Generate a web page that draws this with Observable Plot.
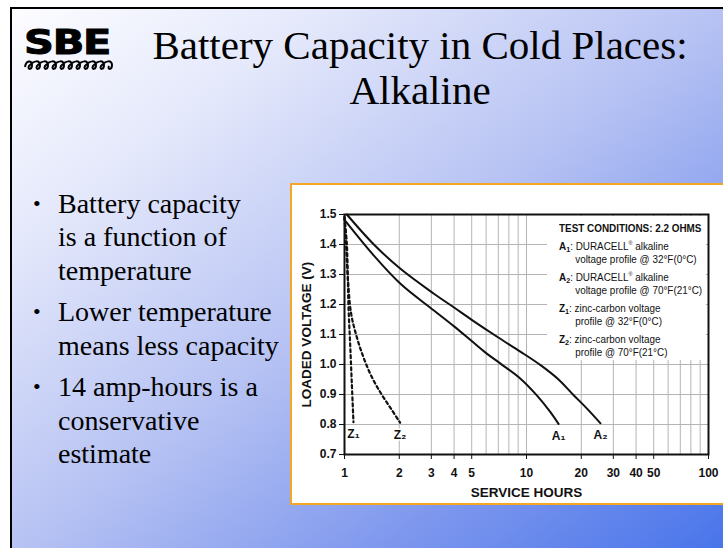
<!DOCTYPE html>
<html><head><meta charset="utf-8">
<script src="https://cdn.jsdelivr.net/npm/d3@7"></script>
<script src="https://cdn.jsdelivr.net/npm/@observablehq/plot@0.6"></script>
<style>
html,body{margin:0;padding:0;}
body{width:723px;height:548px;overflow:hidden;position:relative;background:#fff;}
#slide{position:absolute;left:10px;top:7px;width:720px;height:548px;border-left:2px solid #000;border-top:2px solid #000;box-sizing:border-box;
 background:linear-gradient(to bottom right,#fdfdff 0%,#e4e8fb 22%,#b6c2f3 50%,#7f98ee 75%,#4673ea 100%);}
#title{position:absolute;left:120px;top:23px;width:600px;text-align:center;font-family:"Liberation Serif","Times New Roman",serif;font-size:41px;line-height:45px;color:#000;}
#logo{position:absolute;left:24px;top:24px;}
#logo .sbe{font-family:"DejaVu Sans",sans-serif;font-weight:900;font-size:34px;line-height:36px;letter-spacing:-1px;transform:scaleX(1.22);transform-origin:left top;display:block;-webkit-text-stroke:1px #000;}
#logo svg{display:block;margin-top:-1px;}
#bullets{position:absolute;left:33px;top:187px;font-family:"Liberation Serif","Times New Roman",serif;font-size:28px;line-height:33.3px;color:#000;}
#bullets .item{position:relative;padding-left:25px;margin-bottom:8.5px;white-space:nowrap;}
#bullets .item:before{content:"•";position:absolute;left:0;top:0;font-size:22px;}
#panel{position:absolute;left:290px;top:183px;width:460px;height:322px;box-sizing:border-box;background:#fff;border:2px solid #f5a623;}
#chart{position:absolute;left:292px;top:185px;}
#legend{position:absolute;left:547px;top:216px;width:159px;height:144px;background:#fff;}
#legend .in{position:absolute;left:12px;top:6px;font-family:"Liberation Sans",Arial,sans-serif;font-size:11px;line-height:13px;color:#111;white-space:nowrap;transform:scaleX(0.9);transform-origin:left top;}
#legend .grp{margin-top:5px;}
#legend .l2{padding-left:18px;}
#legend sup{font-size:6px;vertical-align:5px;line-height:0;}
#legend sub{font-size:8px;vertical-align:-2px;line-height:0;}
</style></head>
<body>
<div id="slide"></div>
<div id="logo"><span class="sbe">SBE</span>
<svg width="92" height="14" viewBox="0 0 92 14"><path id="wave" fill="none" stroke="#000" stroke-width="2"/></svg></div>
<div id="title">Battery Capacity in Cold Places:<br>Alkaline</div>
<div id="bullets"></div>
<div id="panel"></div>
<div id="chart"></div>
<div id="legend"><div class="in" id="legin"></div></div>
<script>
// ---- data ----
const hoursA1 = [1.0, 1.45, 2.03, 3.1, 4.0, 5.0, 6.0, 7.2, 9.3, 11.4, 13.5, 15.0];
const voltsA1 = [1.482, 1.363, 1.269, 1.18, 1.127, 1.078, 1.038, 1.003, 0.952, 0.897, 0.842, 0.802];
const hoursA2 = [1.03, 1.45, 2.03, 3.1, 4.0, 5.0, 7.0, 9.25, 12.0, 15.0, 18.0, 21.5, 25.5];
const voltsA2 = [1.5, 1.4, 1.319, 1.236, 1.19, 1.149, 1.09, 1.043, 0.997, 0.95, 0.90, 0.853, 0.804];
const hoursZ1 = [1.0, 1.03, 1.043, 1.052, 1.074, 1.097, 1.12];
const voltsZ1 = [1.49, 1.402, 1.291, 1.191, 1.069, 0.936, 0.808];
const hoursZ2 = [1.0, 1.02, 1.043, 1.088, 1.169, 1.271, 1.413, 1.6, 1.8, 2.02];
const voltsZ2 = [1.492, 1.40, 1.29, 1.169, 1.091, 1.024, 0.958, 0.90, 0.853, 0.806];

const xTicks = [1, 2, 3, 4, 5, 10, 20, 30, 40, 50, 100];
const xGrid = [1, 2, 3, 4, 5, 6, 7, 8, 9, 10, 20, 30, 40, 50, 60, 70, 80, 90, 100];
const yTicks = [0.7, 0.8, 0.9, 1.0, 1.1, 1.2, 1.3, 1.4, 1.5];

const curveNames = ["A₁", "A₂", "Z₁", "Z₂"];
const legendTitle = "TEST CONDITIONS: 2.2 OHMS";
const legendLine1 = ["DURACELL® alkaline", "DURACELL® alkaline", "zinc-carbon voltage", "zinc-carbon voltage"];
const legendLine2 = ["voltage profile @ 32°F(0°C)", "voltage profile @ 70°F(21°C)", "profile @ 32°F(0°C)", "profile @ 70°F(21°C)"];

const bulletLines = [
  ["Battery capacity", "is a function of", "temperature"],
  ["Lower temperature", "means less capacity"],
  ["14 amp-hours is a", "conservative", "estimate"]
];

// ---- slide text ----
document.getElementById("bullets").innerHTML = bulletLines
  .map(ls => `<div class="item">${ls.join("<br>")}</div>`).join("");
const subHtml = n => n.replace("₁", "<sub>1</sub>").replace("₂", "<sub>2</sub>");
document.getElementById("legin").innerHTML =
  `<div style="font-weight:bold">${legendTitle}</div>` +
  curveNames.map((n, i) => `<div class="grp"><div><b>${subHtml(n)}</b>: ${legendLine1[i].replace("®", "<sup>®</sup>")}</div><div class="l2">${legendLine2[i]}</div></div>`).join("");

// logo wave
{
  let d = "M1,8";
  for (let i = 0; i < 11; i++) { const x = 1 + i * 8; d += ` C${x+1},1 ${x+7},1 ${x+7},6 C${x+7},11 ${x+2},11 ${x+4},7`; }
  document.getElementById("wave").setAttribute("d", d);
}

// ---- build series table ----
const mk = (name, hs, vs) => hs.map((h, i) => ({series: name, h, v: vs[i]}));
const solid = [...mk("A₁", hoursA1, voltsA1), ...mk("A₂", hoursA2, voltsA2)];
const dashed = [...mk("Z₁", hoursZ1, voltsZ1), ...mk("Z₂", hoursZ2, voltsZ2)];
const ends = [
  {label: "Z₁", h: hoursZ1.at(-1), v: voltsZ1.at(-1)},
  {label: "Z₂", h: hoursZ2.at(-1), v: voltsZ2.at(-1)},
  {label: "A₁", h: hoursA1.at(-1), v: voltsA1.at(-1)},
  {label: "A₂", h: hoursA2.at(-1), v: voltsA2.at(-1)}
];

const FONT = "'Liberation Sans',Arial,sans-serif";
const chart = Plot.plot({
  width: 431, height: 318,
  marginLeft: 52, marginRight: 15, marginTop: 29, marginBottom: 49,
  style: {fontFamily: FONT, fontSize: "12px", background: "transparent", color: "#111", overflow: "visible"},
  x: {type: "log", domain: [1, 100]},
  y: {domain: [0.7, 1.5]},
  marks: [
    Plot.gridX(xGrid, {stroke: "#b4b4b4", strokeOpacity: 1, strokeWidth: 1}),
    Plot.gridY(yTicks, {stroke: "#b4b4b4", strokeOpacity: 1, strokeWidth: 1}),
    Plot.line(solid, {x: "h", y: "v", z: "series", stroke: "#111", strokeWidth: 2, curve: "catmull-rom"}),
    Plot.line(dashed, {x: "h", y: "v", z: "series", stroke: "#111", strokeWidth: 2.2, strokeDasharray: "3,3", curve: "catmull-rom"}),
    Plot.frame({stroke: "#111", strokeWidth: 2}),
    Plot.axisX(xTicks, {tickSize: 5, tickFormat: () => "", label: null, stroke: "#111"}),
    Plot.text(xTicks, {x: d => d, text: d => String(d), frameAnchor: "bottom", lineAnchor: "middle", dy: 19, fontWeight: "bold", fontSize: 12, fill: "#111"}),
    Plot.axisY(yTicks, {tickSize: 5, tickPadding: 3, tickFormat: d => d.toFixed(1), fontWeight: "bold", fontSize: 12, label: null, stroke: "#111"}),
    Plot.text(["SERVICE HOURS"], {frameAnchor: "bottom", lineAnchor: "middle", dy: 38, fontWeight: "bold", fontSize: 13.5, fill: "#111"}),
    Plot.text(["LOADED VOLTAGE (V)"], {frameAnchor: "left", textAnchor: "middle", lineAnchor: "middle", rotate: -90, dx: -38, fontWeight: "bold", fontSize: 13.5, fill: "#111"}),
    Plot.text(ends, {x: "h", y: "v", text: "label", dy: 12, fontWeight: "bold", fontSize: 12, fill: "#111", stroke: "white", strokeWidth: 3})
  ]
});
document.getElementById("chart").appendChild(chart);
</script>
</body></html>
